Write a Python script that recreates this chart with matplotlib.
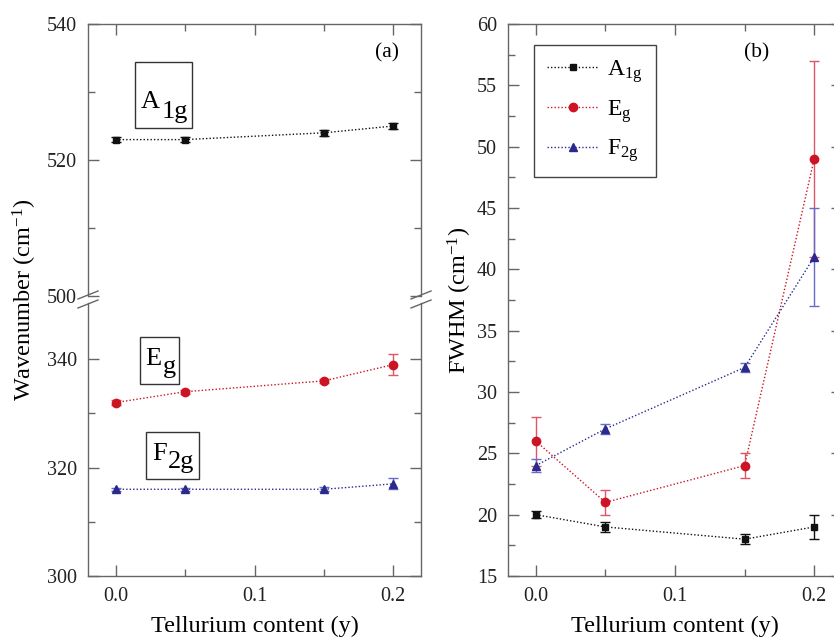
import numpy as np
import matplotlib
matplotlib.use('Agg')
import matplotlib.pyplot as plt
from matplotlib.lines import Line2D
from matplotlib.patches import Rectangle

plt.rcParams['font.family'] = ['Liberation Serif', 'DejaVu Serif']
plt.rcParams['mathtext.fontset'] = 'custom'
plt.rcParams['mathtext.rm'] = 'Liberation Serif'
plt.rcParams['mathtext.it'] = 'Liberation Serif:italic'

# data
te = [0.0, 0.05, 0.15, 0.2]
modes = ['A1g', 'Eg', 'F2g']

wn_a1g = [523, 523, 524, 525]
wn_a1g_err = [0.4, 0.4, 0.4, 0.5]
wn_eg = [332, 334, 336, 339]
wn_eg_err = [0.4, 0.4, 0.4, 2.0]
wn_f2g = [316, 316, 316, 317]
wn_f2g_err = [0.3, 0.3, 0.4, 1.0]

fw_a1g = [20, 19, 18, 19]
fw_a1g_err = [0.3, 0.4, 0.4, 1.0]
fw_eg = [26, 21, 24, 49]
fw_eg_err = [2.0, 1.0, 1.0, 8.0]
fw_f2g = [24, 27, 32, 41]
fw_f2g_err = [0.5, 0.4, 0.4, 4.0]

W, H = 834, 640
fig = plt.figure(figsize=(W / 100, H / 100), dpi=100)

def fx(px):
    return px / W

def fy(py):
    return 1 - py / H

spine_c = '#666666'
tick_c = '#222222'
blk = '#111111'
red = '#cc1424'
red_e = '#dd5566'
blu = '#2a2a8c'
blu_e = '#6a6ac8'

def style(ax):
    for s in ax.spines.values():
        s.set_color(spine_c)
        s.set_linewidth(1.0)
    ax.tick_params(which='both', direction='in', colors=spine_c, labelcolor=tick_c,
                   labelsize=14.5, pad=8, top=True, right=True)
    ax.tick_params(which='major', length=8, width=1)
    ax.tick_params(which='minor', length=5, width=1)

def series(ax, y, e, mk, c, ec, ms, z):
    ax.errorbar(te, y, yerr=e, fmt=mk, color=c, ecolor=ec, ms=ms, capsize=3.5,
                elinewidth=1, capthick=1, zorder=z)
    ax.plot(te, y, ls=(0, (1, 1.5)), lw=1, color=c, zorder=z - 1)

# left panel: broken axis
ax_top = fig.add_axes([fx(88), fy(296), fx(333), (296 - 24) / H])
ax_bot = fig.add_axes([fx(88), fy(576), fx(333), (576 - 303) / H])

for ax in (ax_top, ax_bot):
    style(ax)
    ax.set_xlim(-0.02, 0.22)
    ax.set_xticks([0.0, 0.1, 0.2])
    ax.set_xticks([0.05, 0.15], minor=True)

ax_top.set_ylim(500, 540)
ax_top.set_yticks([500, 520, 540])
ax_top.set_yticks([510, 530], minor=True)
ax_top.spines['bottom'].set_visible(False)
ax_top.tick_params(which='both', bottom=False, labelbottom=False)
series(ax_top, wn_a1g, wn_a1g_err, 's', blk, blk, 5, 4)

ax_bot.set_ylim(300, 300 + (576 - 303) / 5.42)
ax_bot.set_yticks([300, 320, 340])
ax_bot.set_yticks([310, 330], minor=True)
ax_bot.spines['top'].set_visible(False)
ax_bot.tick_params(which='both', top=False)
ax_bot.set_xticklabels(['0.0', '0.1', '0.2'])
series(ax_bot, wn_eg, wn_eg_err, 'o', red, red_e, 6, 4)
series(ax_bot, wn_f2g, wn_f2g_err, '^', blu, blu_e, 6, 6)
ax_bot.set_xlabel('Tellurium content (y)', fontsize=17.5, labelpad=7)

fig.text(fx(25), fy(300), 'Wavenumber (cm$^{\\mathrm{-1}}$)', rotation=90,
         ha='center', va='center', fontsize=17.5)

# break marks
for sx in (88, 421):
    for cy in (295, 304):
        fig.add_artist(Line2D([fx(sx - 10), fx(sx + 10)], [fy(cy + 4), fy(cy - 4)],
                              color=spine_c, lw=1))

# mode boxes
def mode_box(x0, y0, x1, y1, main, sub, mx, my, sx, sy):
    fig.add_artist(Rectangle((fx(x0), fy(y1)), fx(x1 - x0), (y1 - y0) / H,
                             fill=False, ec='#333333', lw=1, transform=fig.transFigure))
    fig.text(fx(mx), fy(my), main, fontsize=19, va='baseline', ha='left')
    fig.text(fx(sx), fy(sy), sub, fontsize=19, va='baseline', ha='left')

mode_box(135, 62, 192, 128, 'A', '1g', 141, 108, 162, 118)
mode_box(140, 337, 179, 384, 'E', 'g', 145, 365, 163, 373)
mode_box(146, 432, 199, 479, 'F', '2g', 152, 460, 168, 468)

fig.text(fx(387), fy(53), '(a)', fontsize=15.5, ha='center', va='center')

# right panel
ax2 = fig.add_axes([fx(508), fy(576), fx(334), (576 - 24) / H])
style(ax2)
ax2.set_xlim(-0.02, 0.22)
ax2.set_xticks([0.0, 0.1, 0.2])
ax2.set_xticks([0.05, 0.15], minor=True)
ax2.set_xticklabels(['0.0', '0.1', '0.2'])
ax2.set_ylim(15, 60)
ax2.set_yticks(np.arange(15, 61, 5))
ax2.set_yticks(np.arange(17.5, 60, 5), minor=True)

series(ax2, fw_a1g, fw_a1g_err, 's', blk, blk, 5, 4)
series(ax2, fw_eg, fw_eg_err, 'o', red, red_e, 6, 6)
series(ax2, fw_f2g, fw_f2g_err, '^', blu, blu_e, 6, 8)
ax2.set_xlabel('Tellurium content (y)', fontsize=17.5, labelpad=7)
ax2.set_ylabel('FWHM (cm$^{\\mathrm{-1}}$)', fontsize=17.5, labelpad=2)

handles = [
    Line2D([], [], ls=(0, (1, 1.5)), lw=1, color=blk, marker='s', ms=5),
    Line2D([], [], ls=(0, (1, 1.5)), lw=1, color=red, marker='o', ms=6),
    Line2D([], [], ls=(0, (1, 1.5)), lw=1, color=blu, marker='^', ms=6),
]
labels = ['A$_{\\mathrm{1g}}$', 'E$_{\\mathrm{g}}$', 'F$_{\\mathrm{2g}}$']
leg = ax2.legend(handles, labels, loc='upper left', bbox_to_anchor=(fx(534), fy(45)),
                 bbox_transform=fig.transFigure, borderaxespad=0, fontsize=17,
                 handlelength=2.2, handletextpad=0.35, numpoints=1, fancybox=False,
                 framealpha=1, edgecolor='#444444', labelspacing=0.55, borderpad=0.55)
leg.get_frame().set_linewidth(1)

fig.text(fx(757), fy(53), '(b)', fontsize=15.5, ha='center', va='center')

fig.savefig('out.png', dpi=100)
